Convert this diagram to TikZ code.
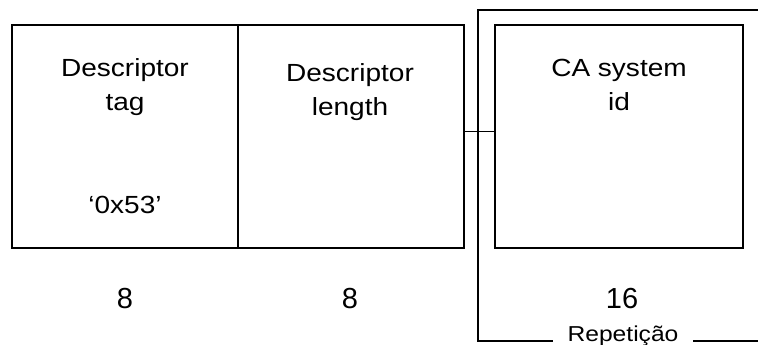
\documentclass[tikz,border=0pt]{standalone}
\usepackage{fontspec}
\setmainfont{Liberation Sans}
\usetikzlibrary{positioning}
\begin{document}
\begin{tikzpicture}[x=0.5pt, y=-0.5pt, line width=1pt,
  field/.style={draw, minimum width=113pt, minimum height=111.5pt, inner sep=0pt, outer sep=0pt},
  fieldtext/.style={font=\fontsize{12.4}{17}\selectfont, align=center, anchor=base, inner sep=0pt, xscale=1.13, transform shape},
  bits/.style={font=\fontsize{14.5}{17}\selectfont, anchor=base, inner sep=0pt}]
  \useasboundingbox (0,0) rectangle (758,344);
  % fields
  \node[field] (tag) at (125,136.5) {};
  \node[field, right=0pt of tag] (len) {};
  \node[field, minimum width=124pt] (casys) at (619,136.5) {};
  \node[fieldtext] (tagtext) at (125,110) {Descriptor\\tag};
  \node[fieldtext] (tagval) at (125,213) {‘0x53’};
  \node[fieldtext] (lentext) at (350,115) {Descriptor\\length};
  \node[fieldtext] (castext) at (619,110) {CA system\\id};
  \draw[line width=0.5pt] ([yshift=2.75pt]len.east) -- ([yshift=2.75pt]casys.west);
  % sizes
  \node[bits] (tagbits) at (125,308) {8};
  \node[bits] (lenbits) at (350,308) {8};
  \node[bits] (casbits) at (622,308) {16};
  % loop bracket
  \node[font=\fontsize{10.8}{11}\selectfont, anchor=base, inner xsep=6pt, xscale=1.14, transform shape] (rep) at (623,341) {Repetição};
  \draw (758,10) -| (478,341) -- (rep.base west);
  \draw (rep.base east) -- (758,341);
\end{tikzpicture}
\end{document}
